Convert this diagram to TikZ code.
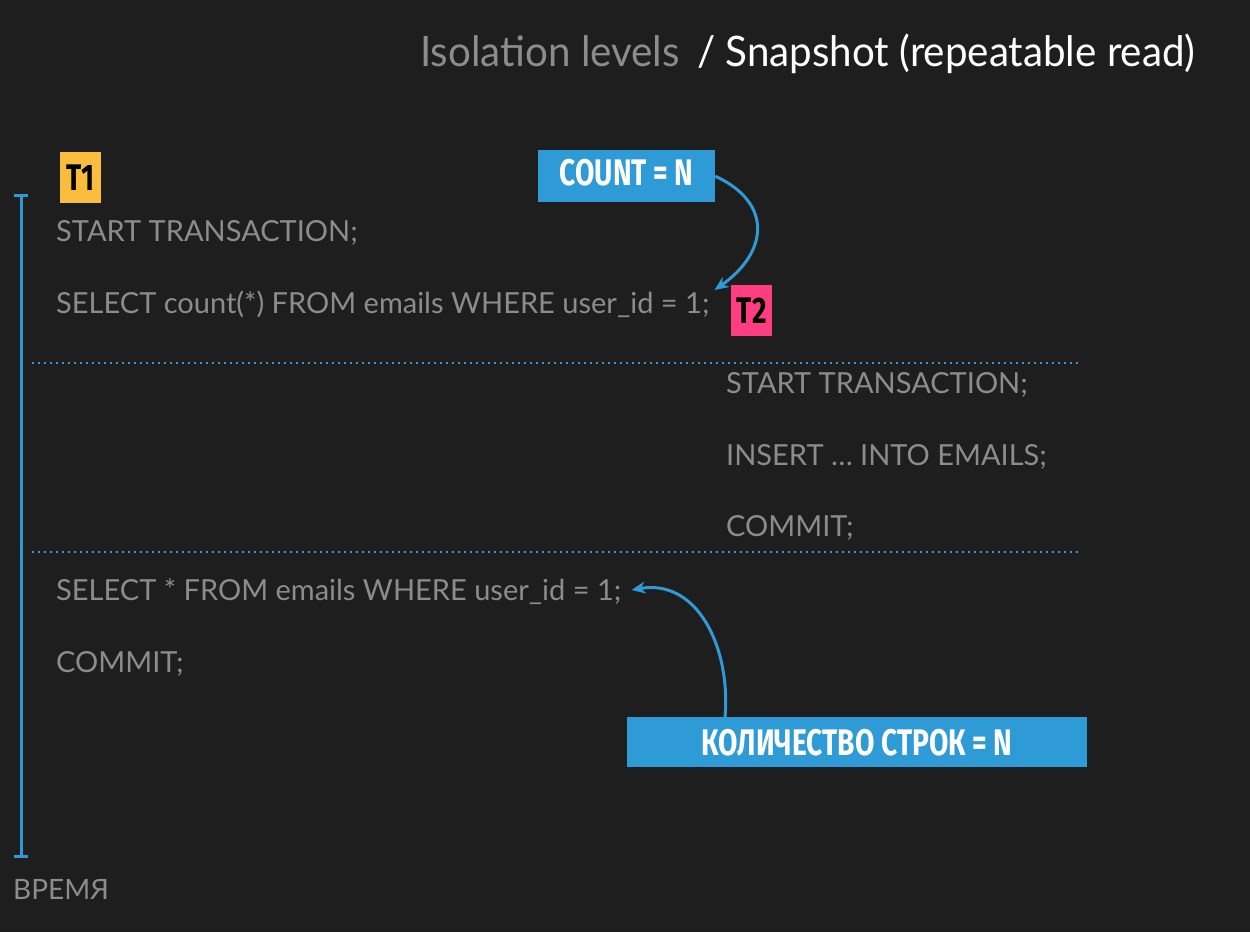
\documentclass[tikz,border=0pt]{standalone}
\usepackage{fontspec}
\setmainfont{Lato}
\newfontfamily\lblfont[FakeStretch=0.76]{Fira Sans Bold}
\newfontfamily\ttlfont[FakeStretch=0.96]{Lato}
\usetikzlibrary{arrows.meta, positioning, calc}
\definecolor{bgdark}{HTML}{1E1E1E}
\definecolor{tlblue}{HTML}{2E9AD6}
\definecolor{codegray}{HTML}{8C8C8C}
\definecolor{tyellow}{HTML}{F9BC3D}
\definecolor{tpink}{HTML}{FF3D80}

\begin{document}
\begin{tikzpicture}[x=1pt, y=-1pt,
  code/.style={anchor=west, inner sep=2pt, text=codegray, font=\fontsize{29}{34}\selectfont},
  lbl/.style={fill=tlblue, text=white, inner sep=0pt, font=\lblfont\fontsize{37}{40}\selectfont},
  tag/.style={text=black, inner sep=0pt, minimum width=41pt, minimum height=51pt, font=\lblfont\fontsize{37}{40}\selectfont},
  arr/.style={-{Stealth[length=14pt, width=12pt]}, line width=3pt, draw=tlblue},
  sep/.style={draw=tlblue, line width=2pt, dash pattern=on 2pt off 4pt}
]
\fill[bgdark] (0,0) rectangle (1250,932);
\useasboundingbox (0,0) rectangle (1250,932);
% title
\node[anchor=base west, inner sep=0pt, text=codegray, font=\ttlfont\fontsize{42}{46}\selectfont] (lvl) at (420,66) {Isolation levels};
\node[anchor=base west, inner sep=0pt, text=white, font=\ttlfont\fontsize{42}{46}\selectfont] (snap) at (697,66) {/ Snapshot (repeatable read)};
% time axis
\coordinate (top) at (21,195);
\coordinate (bot) at (21,856);
\draw[tlblue, line width=3pt] (top) -- (bot);
\draw[tlblue, line width=3pt] ([xshift=-7pt]top) -- ([xshift=7pt]top);
\draw[tlblue, line width=3pt] ([xshift=-7pt]bot) -- ([xshift=7pt]bot);
\node[anchor=west, inner sep=0pt, text=codegray, font=\fontsize{28}{32}\selectfont] (time) at (13,889) {ВРЕМЯ};
% transaction tags
\node[tag, fill=tyellow, anchor=north west] (t1) at (60,152) {T1};
\node[tag, fill=tpink, anchor=north west] (t2) at (731,285) {T2};
% T1 statements
\node[code] (st1) at (54,233) {START TRANSACTION;};
\node[code] (sel1) at (54,304) {SELECT count(*) FROM emails WHERE user\_id = 1;};
% T2 statements
\node[code] (st2) at (724,385) {START TRANSACTION;};
\node[code] (ins) at (724,457) {INSERT … INTO EMAILS;};
\node[code] (com2) at (724,528) {COMMIT;};
% T1 again
\node[code] (sel2) at (54,592) {SELECT * FROM emails WHERE user\_id = 1;};
\node[code] (com1) at (54,664) {COMMIT;};
% separators
\draw[sep] (32,363) -- (1082,363);
\draw[sep] (32,552) -- (1082,552);
% result boxes
\node[lbl, minimum width=177pt, minimum height=52pt, text height=26pt, text depth=8pt, anchor=north west] (cnt) at (538,150) {COUNT = N};
\node[lbl, minimum width=460pt, minimum height=50pt, anchor=north west] (rows) at (627,717) {КОЛИЧЕСТВО СТРОК = N};
\draw[arr] (cnt.east) to[out=-25, in=35, looseness=1.45] ([xshift=3pt, yshift=14pt]sel1.east);
\draw[arr] ([xshift=98pt]rows.north west) to[out=85, in=10, looseness=1.1] ([xshift=8pt, yshift=2pt]sel2.east);
\end{tikzpicture}
\end{document}
